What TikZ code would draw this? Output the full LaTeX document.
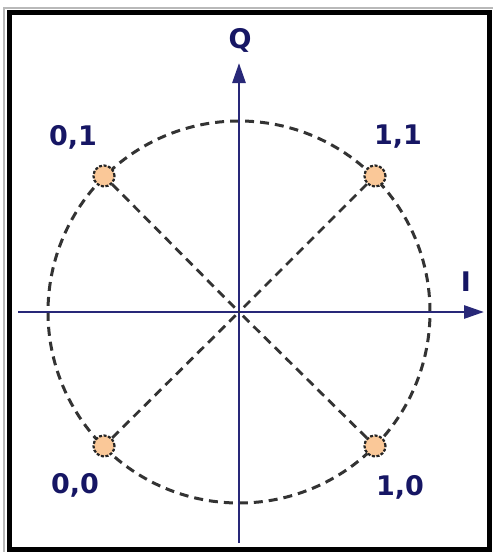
\documentclass[tikz,border=0pt]{standalone}
\usepackage{fontspec}
\setmainfont{DejaVu Sans}
\usetikzlibrary{arrows.meta, positioning}
\definecolor{axisblue}{RGB}{40,40,120}
\definecolor{labelblue}{RGB}{22,22,100}
\definecolor{dotfill}{RGB}{250,200,152}

\begin{document}
\begin{tikzpicture}[
    x=1pt, y=-1pt,
    axis/.style={draw=axisblue, line width=2.8pt, -{Triangle[length=20pt, width=13pt]}},
    ring/.style={draw=black!80, line width=3pt, dash pattern=on 9pt off 6pt},
    spoke/.style={draw=black!80, line width=2.8pt, dash pattern=on 9pt off 6pt},
    sym/.style={circle, draw=black!85, line width=2.2pt, dash pattern=on 3pt off 1.6pt,
                fill=dotfill, minimum size=21pt, inner sep=0pt},
    lbl/.style={text=labelblue, font=\bfseries\fontsize{27}{27}\selectfont},
]
    \useasboundingbox (0,0) rectangle (493,552);
    % frame
    \draw[gray!55, line width=1.5pt] (4,552) -- (4,8) -- (493,8);
    \draw[black, line width=5pt] (9.5,12.5) rectangle (489.5,549.5);

    \coordinate (O) at (239,312);
    \coordinate (west) at (18,312);
    \coordinate (east) at (484,312);
    \coordinate (south) at (239,543);
    \coordinate (north) at (239,63);

    \draw[ring] (O) circle[radius=191pt];
    \draw[axis] (west) -- (east);
    \draw[axis] (south) -- (north);

    \node[sym] (p01) at (104,176) {};
    \node[sym] (p11) at (375,176) {};
    \node[sym] (p00) at (104,446) {};
    \node[sym] (p10) at (375,446) {};

    \draw[spoke] (p01) -- (O);
    \draw[spoke] (p11) -- (O);
    \draw[spoke] (p00) -- (O);
    \draw[spoke] (p10) -- (O);

    \node[lbl] (l01) at (73,137) {0,1};
    \node[lbl] (l11) at (398,137) {1,1};
    \node[lbl] (l00) at (75,485) {0,0};
    \node[lbl] (l10) at (400,487) {1,0};
    \node[lbl] (qlbl) at (240,40) {Q};
    \node[lbl] (ilbl) at (466,282) {I};
\end{tikzpicture}
\end{document}
